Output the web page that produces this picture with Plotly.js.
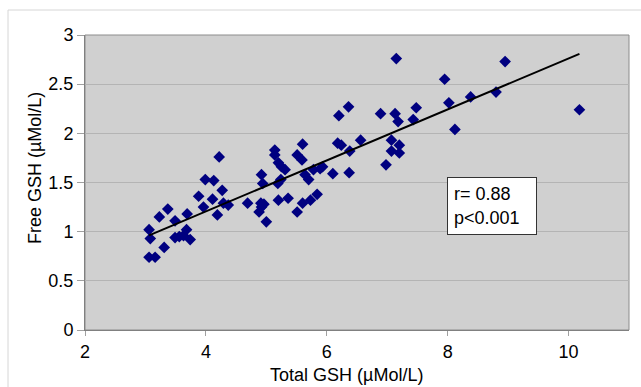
<!DOCTYPE html>
<html>
<head>
<meta charset="utf-8">
<script src="https://cdn.plot.ly/plotly-3.0.1.min.js"></script>
<style>html,body{margin:0;padding:0;background:#fff;}#chart{width:641px;height:387px;}</style>
</head>
<body>
<div id="chart"></div>
<script>
const totalGSH = [3.06,3.16,3.31,3.08,3.06,3.23,3.37,3.49,3.49,3.56,3.63,3.68,3.74,3.69,3.88,3.96,3.99,4.11,4.13,4.22,4.27,4.19,4.29,4.37,4.69,4.92,4.94,4.91,4.96,4.92,4.88,5.00,5.14,5.14,5.20,5.25,5.31,5.19,5.24,5.20,5.36,5.51,5.59,5.60,5.64,5.70,5.51,5.60,5.73,5.84,5.78,5.89,5.93,6.10,6.18,6.24,6.20,6.36,6.38,6.56,6.37,6.89,6.98,7.07,7.07,7.13,7.15,7.18,7.20,7.20,7.48,7.43,7.95,8.02,8.12,8.38,8.80,8.95,10.18];
const freeGSH = [0.74,0.74,0.84,0.93,1.02,1.15,1.23,1.11,0.94,0.95,0.96,1.02,0.92,1.18,1.36,1.25,1.53,1.33,1.52,1.76,1.42,1.17,1.29,1.27,1.29,1.58,1.49,1.29,1.28,1.25,1.20,1.10,1.83,1.78,1.70,1.66,1.63,1.49,1.53,1.32,1.34,1.78,1.73,1.89,1.58,1.53,1.20,1.29,1.32,1.38,1.63,1.64,1.66,1.59,1.90,1.88,2.18,2.27,1.82,1.93,1.60,2.20,1.68,1.93,1.82,2.20,2.76,2.12,1.88,1.80,2.26,2.14,2.55,2.31,2.04,2.37,2.42,2.73,2.24];
const statsText = ["r= 0.88", "p<0.001"];
const xTitle = "Total GSH (µMol/L)";
const yTitle = "Free GSH (µMol/L)";

// least-squares trend line computed from the data
const n = totalGSH.length;
const mx = totalGSH.reduce((a,b)=>a+b,0)/n;
const my = freeGSH.reduce((a,b)=>a+b,0)/n;
let sxy = 0, sxx = 0;
for (let i=0;i<n;i++){ sxy += (totalGSH[i]-mx)*(freeGSH[i]-my); sxx += (totalGSH[i]-mx)**2; }
const slope = sxy/sxx, intercept = my - slope*mx;
const xmin = Math.min(...totalGSH), xmax = Math.max(...totalGSH);
const fitX = [xmin, xmax];
const fitY = fitX.map(v => intercept + slope*v);

const font = {family: "Liberation Sans, Arial, sans-serif", color: "#000", size: 18};

const data = [
  {x: totalGSH, y: freeGSH, type: "scatter", mode: "markers",
   marker: {symbol: "diamond", size: 9, color: "#000080"}, hoverinfo: "x+y"},
  {x: fitX, y: fitY, type: "scatter", mode: "lines",
   line: {color: "#000", width: 2}, hoverinfo: "skip"}
];

const layout = {
  width: 641, height: 387,
  margin: {l: 85, r: 12, t: 35, b: 57},
  paper_bgcolor: "#fff", plot_bgcolor: "#d0d0d0",
  showlegend: false,
  font: font,
  xaxis: {range: [2, 11], tick0: 2, dtick: 2, showgrid: false, zeroline: false,
    showline: true, linecolor: "#808080", linewidth: 1, ticks: "outside", ticklen: 5,
    tickcolor: "#a0a0a0", tickfont: {size: 18}, title: {text: ""}},
  yaxis: {range: [0, 3], tick0: 0, dtick: 0.5, showgrid: true, gridcolor: "#b4b4b4", zeroline: false,
    showline: true, linecolor: "#808080", linewidth: 1, ticks: "outside", ticklen: 7,
    tickcolor: "#a0a0a0", tickfont: {size: 18}, title: {text: ""}},
  shapes: [
    {type: "rect", xref: "paper", yref: "paper", x0: 0, x1: 1, y0: 0, y1: 1,
     line: {color: "#8c8c8c", width: 1}, layer: "below"},
    {type: "rect", xref: "paper", yref: "paper", x0: -0.1415, x1: 1.03, y0: -0.22, y1: 1.0847,
     line: {color: "#d6d6d6", width: 1}, layer: "below"}
  ],
  annotations: [
    {x: 8.73, y: 1.264, xref: "x", yref: "y", showarrow: false,
     text: statsText.join("<br>"), align: "left", valign: "middle",
     width: 76, height: 44, borderpad: 6, bgcolor: "#fff", bordercolor: "#333", borderwidth: 1,
     font: {size: 18}},
    {x: 0.4798, y: -0.1525, xref: "paper", yref: "paper", xanchor: "center", yanchor: "middle",
     showarrow: false, text: xTitle, font: {size: 18}},
    {x: -0.0919, y: 0.549, xref: "paper", yref: "paper", xanchor: "center", yanchor: "middle",
     showarrow: false, text: yTitle, textangle: -90, font: {size: 18}}
  ]
};

Plotly.newPlot("chart", data, layout, {displayModeBar: false, staticPlot: true});
</script>
</body>
</html>
